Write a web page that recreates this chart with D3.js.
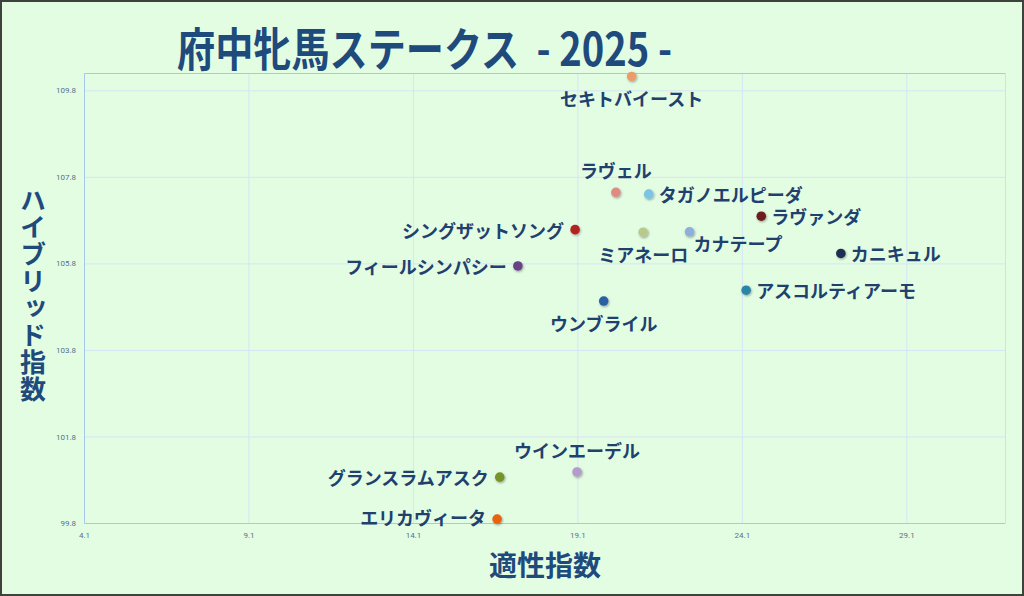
<!DOCTYPE html>
<html>
<head>
<meta charset="utf-8">
<script src="https://cdn.jsdelivr.net/npm/d3@7"></script>
<style>
  html, body { margin: 0; padding: 0; background: #e3fde3; }
  svg { display: block; }
</style>
</head>
<body>
<svg id="chart" width="1024" height="596"></svg>
<script>
// horse names, aptitude index (x), hybrid index (y)
var horses = ["セキトバイースト", "ラヴェル", "タガノエルピーダ", "ラヴァンダ", "シングザットソング",
  "ミアネーロ", "カナテープ", "カニキュル", "フィールシンパシー", "アスコルティアーモ",
  "ウンブライル", "ウインエーデル", "グランスラムアスク", "エリカヴィータ"];
var aptitude = [20.75, 20.27, 21.27, 24.69, 19.03, 21.10, 22.51, 27.11, 17.29, 24.23, 19.90, 19.09, 16.74, 16.66];
var hybrid = [110.12, 107.44, 107.40, 106.89, 106.58, 106.52, 106.53, 106.03, 105.74, 105.18, 104.93, 100.98, 100.86, 99.89];
var xTicks = [4.1, 9.1, 14.1, 19.1, 24.1, 29.1];
var yTicks = [99.8, 101.8, 103.8, 105.8, 107.8, 109.8];

var colors = ["#ec9b6a", "#e08a84", "#7cc4e4", "#6e1a1e", "#b22222", "#b9c98c", "#8eaedc",
  "#1d2f52", "#6a3f86", "#2a86a6", "#2a5fa6", "#b39ccb", "#76942c", "#e8630e"];

// where each label sits relative to its dot
var labelSide = ["below", "above", "right", "right", "left", "below", "belowright",
  "right", "left", "right", "below", "above", "left", "leftup"];

var width = 1024, height = 596,
    margin = { top: 73, right: 19, bottom: 73, left: 84 };

var svg = d3.select('#chart');

svg.append('rect')
  .attr('x', 1).attr('y', 1)
  .attr('width', width - 2).attr('height', height - 2)
  .style('fill', '#e3fde3')
  .style('stroke', '#3d423d')
  .style('stroke-width', 2);

var x = d3.scaleLinear().domain([4.1, 32.1]).range([margin.left, width - margin.right]);
var y = d3.scaleLinear().domain([99.8, 110.2]).range([height - margin.bottom, margin.top]);

var defs = svg.append('defs');
var shadow = defs.append('filter').attr('id', 'shadow')
  .attr('x', '-50%').attr('y', '-50%').attr('width', '200%').attr('height', '200%');
shadow.append('feDropShadow')
  .attr('dx', 0.8).attr('dy', 1.2).attr('stdDeviation', 0.9)
  .attr('flood-color', '#000').attr('flood-opacity', 0.35);

// grid + axes
var xAxis = svg.append('g')
  .attr('transform', 'translate(0,' + y.range()[0] + ')')
  .call(d3.axisBottom(x).tickValues(xTicks).tickFormat(d3.format('.1f'))
    .tickSize(-(y.range()[0] - y.range()[1])).tickPadding(9));
xAxis.select('.domain').style('stroke', '#cfe0f2');
xAxis.selectAll('.tick line').style('stroke', '#d6e4f6');
xAxis.selectAll('.tick text')
  .style('font-family', 'Roboto, "DejaVu Sans", sans-serif')
  .style('font-size', '8px').style('fill', '#5a6f8c');

var yAxis = svg.append('g')
  .attr('transform', 'translate(' + x.range()[0] + ',0)')
  .call(d3.axisLeft(y).tickValues(yTicks).tickFormat(d3.format('.1f'))
    .tickSize(-(x.range()[1] - x.range()[0])).tickPadding(8));
yAxis.select('.domain').style('stroke', '#a9c6ef');
yAxis.selectAll('.tick line').style('stroke', '#d6e4f6');
yAxis.selectAll('.tick text')
  .style('font-family', 'Roboto, "DejaVu Sans", sans-serif')
  .style('font-size', '8px').style('fill', '#5a6f8c');
yAxis.select('.domain').raise();

// dots
var data = horses.map(function(name, i) {
  return { name: name, x: aptitude[i], y: hybrid[i], color: colors[i], side: labelSide[i] };
});

svg.append('g').selectAll('circle')
  .data(data)
  .enter().append('circle')
  .attr('cx', d => x(d.x))
  .attr('cy', d => y(d.y))
  .attr('r', 4.8)
  .style('fill', d => d.color)
  .attr('filter', 'url(#shadow)');

var labelFont = '"Noto Sans CJK JP", "Noto Sans", sans-serif';
svg.append('g').selectAll('text')
  .data(data)
  .enter().append('text')
  .attr('x', function(d) {
    var px = x(d.x);
    if (d.side === 'left' || d.side === 'leftup') return px - 11;
    if (d.side === 'right') return px + 10;
    if (d.side === 'belowright') return px + 4;
    return px;
  })
  .attr('y', function(d) {
    var py = y(d.y);
    if (d.side === 'below') return py + 22;
    if (d.side === 'above') return py - 22;
    if (d.side === 'belowright') return py + 11;
    if (d.side === 'leftup') return py - 2;
    return py;
  })
  .attr('text-anchor', function(d) {
    if (d.side === 'left' || d.side === 'leftup') return 'end';
    if (d.side === 'right' || d.side === 'belowright') return 'start';
    return 'middle';
  })
  .attr('dominant-baseline', 'central')
  .style('font-family', labelFont)
  .style('font-weight', 700)
  .style('font-size', '18px')
  .style('fill', '#21406e')
  .text(d => d.name);

// title
svg.append('text')
  .attr('x', 177).attr('y', 66)
  .attr('textLength', 495)
  .attr('lengthAdjust', 'spacingAndGlyphs')
  .style('white-space', 'pre')
  .style('font-family', labelFont)
  .style('font-weight', 700)
  .style('font-size', '46px')
  .style('fill', '#1f4a7c')
  .text('府中牝馬ステークス  - 2025 -');

// axis titles
svg.append('text')
  .attr('x', 545).attr('y', 564)
  .attr('text-anchor', 'middle')
  .attr('dominant-baseline', 'central')
  .style('font-family', labelFont)
  .style('font-weight', 700)
  .style('font-size', '28px')
  .style('fill', '#1f4a7c')
  .text('適性指数');

svg.append('text')
  .attr('x', 33).attr('y', 187)
  .style('writing-mode', 'vertical-rl')
  .style('text-orientation', 'upright')
  .style('letter-spacing', '1px')
  .style('font-family', labelFont)
  .style('font-weight', 700)
  .style('font-size', '26px')
  .style('fill', '#1f4a7c')
  .text('ハイブリッド指数');
</script>
</body>
</html>
